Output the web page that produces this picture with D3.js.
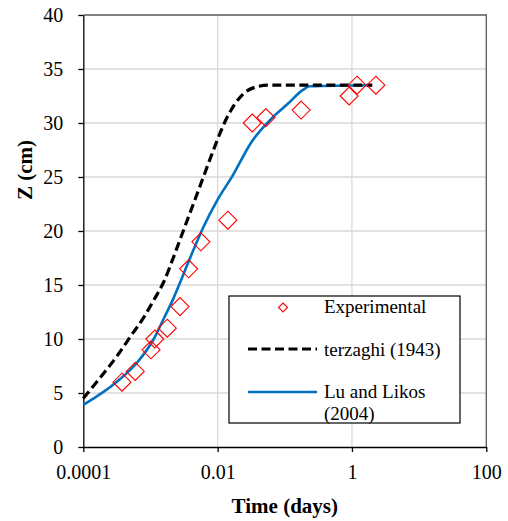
<!DOCTYPE html>
<html>
<head>
<meta charset="utf-8">
<script src="https://cdn.jsdelivr.net/npm/d3@7"></script>
<style>
  html, body { margin: 0; padding: 0; background: #fff; }
  svg { display: block; }
</style>
</head>
<body>
<svg id="chart" width="508" height="521"></svg>
<script>
// ---- Data ----
const xTicks = [0.0001, 0.01, 1, 100];
const xTickLabels = ["0.0001", "0.01", "1", "100"];
const yTicks = [0, 5, 10, 15, 20, 25, 30, 35, 40];

const expTime = [0.000377, 0.000594, 0.00102, 0.00116, 0.00178, 0.00275, 0.0037, 0.00563, 0.0142, 0.0327, 0.0524, 0.175, 0.908, 1.19, 2.27];
const expZ    = [6, 7, 9, 10, 11, 13, 16.5, 19, 21, 30, 30.5, 31.2, 32.5, 33.5, 33.5];

const terzTime = [0.0001, 0.0002, 0.000316, 0.0005, 0.000794, 0.00112, 0.00158, 0.00224, 0.00316, 0.00447, 0.00631, 0.00891, 0.0126, 0.0178, 0.0251, 0.0355, 0.0562, 2.0];
const terzZ    = [4.5, 6.8, 8.4, 10.2, 12.0, 13.6, 15.3, 17.7, 20.2, 22.7, 25.2, 27.7, 30.0, 31.7, 32.8, 33.3, 33.5, 33.5];

const luTime = [0.0001, 0.000316, 0.00063, 0.00112, 0.00158, 0.00214, 0.00389, 0.00617, 0.01, 0.017, 0.0316, 0.0631, 0.112, 0.186, 0.234, 2.0];
const luZ    = [3.9, 6.05, 7.8, 10.0, 11.9, 13.6, 17.5, 20.4, 22.9, 25.2, 28.2, 30.4, 31.8, 33.06, 33.4, 33.5];

const seriesNames = ["Experimental", "terzaghi (1943)", "Lu and Likos", "(2004)"];

// ---- Layout ----
const FONT = '"Liberation Serif", "Times New Roman", serif';
const L = 83.3, R = 486.3, T = 15, B = 447;
const svg = d3.select("#chart");

const x = d3.scaleLog().domain([0.0001, 100]).range([L, R]);
const y = d3.scaleLinear().domain([0, 40]).range([B, T]);

// gridlines
svg.append("g").selectAll("line").data(yTicks.filter(d => d > 0 && d < 40)).join("line")
  .attr("x1", L).attr("x2", R).attr("y1", d => y(d)).attr("y2", d => y(d))
  .attr("stroke", "#d9d9d9").attr("stroke-width", 1.3);
svg.append("g").selectAll("line").data(xTicks.filter(d => d > 0.0001 && d < 100)).join("line")
  .attr("x1", d => x(d)).attr("x2", d => x(d)).attr("y1", T).attr("y2", B)
  .attr("stroke", "#d9d9d9").attr("stroke-width", 1.3);

// frame top/right
svg.append("path")
  .attr("d", `M${L},${T}H${R}V${B}`)
  .attr("fill", "none").attr("stroke", "#595959").attr("stroke-width", 1.3);

// axes
const xAxis = d3.axisBottom(x).tickValues(xTicks).tickFormat((d, i) => xTickLabels[i]).tickSize(5).tickSizeOuter(0);
const gx = svg.append("g").attr("transform", `translate(0,${B})`).call(xAxis);
gx.attr("font-family", null).attr("font-size", null);
gx.select(".domain").attr("stroke", "#000").attr("stroke-width", 1.3);
gx.selectAll(".tick line").attr("stroke", "#000").attr("stroke-width", 1.3);
gx.selectAll(".tick text").style("font-family", FONT).style("font-size", "20px").attr("fill", "#000").attr("dy", null).attr("y", 32);

const yAxis = d3.axisLeft(y).tickValues(yTicks).tickSize(5).tickSizeOuter(0);
const gy = svg.append("g").attr("transform", `translate(${L},0)`).call(yAxis);
gy.attr("font-family", null).attr("font-size", null);
gy.select(".domain").attr("stroke", "#000").attr("stroke-width", 1.3);
gy.selectAll(".tick line").attr("stroke", "#000").attr("stroke-width", 1.3);
gy.selectAll(".tick text").style("font-family", FONT).style("font-size", "20px").attr("fill", "#000").attr("x", -20).attr("dy", "0.34em");

// axis titles
svg.append("text").attr("x", (L + R) / 2).attr("y", 513).attr("text-anchor", "middle")
  .style("font-family", FONT).style("font-size", "21px").style("font-weight", "bold").text("Time (days)");
svg.append("text").attr("transform", "translate(32,170) rotate(-90)").attr("text-anchor", "middle")
  .style("font-family", FONT).style("font-size", "21px").style("font-weight", "bold").text("Z (cm)");

// lines
const line = d3.line().x(d => x(d[0])).y(d => y(d[1])).curve(d3.curveMonotoneX);
const luData = luTime.map((t, i) => [t, luZ[i]]);
const terzData = terzTime.map((t, i) => [t, terzZ[i]]);

svg.append("path").datum(luData).attr("d", line)
  .attr("fill", "none").attr("stroke", "#0070C0").attr("stroke-width", 2.6);
svg.append("path").datum(terzData).attr("d", line)
  .attr("fill", "none").attr("stroke", "#000").attr("stroke-width", 3.2).attr("stroke-dasharray", "9,4.5");

// markers
const diamond = (s) => `M0,${-s}L${s},0L0,${s}L${-s},0Z`;
svg.append("g").selectAll("path").data(expTime.map((t, i) => [t, expZ[i]])).join("path")
  .attr("transform", d => `translate(${x(d[0])},${y(d[1])})`)
  .attr("d", diamond(9))
  .attr("fill", "none").attr("stroke", "#ff0000").attr("stroke-width", 1.1);

// legend
const lg = svg.append("g");
lg.append("rect").attr("x", 229).attr("y", 296).attr("width", 231).attr("height", 127)
  .attr("fill", "#fff").attr("stroke", "#000").attr("stroke-width", 1.2);
lg.append("path").attr("transform", "translate(283,307.5)").attr("d", diamond(4.5))
  .attr("fill", "none").attr("stroke", "#ff0000").attr("stroke-width", 1.1);
lg.append("line").attr("x1", 248).attr("x2", 317).attr("y1", 349).attr("y2", 349)
  .attr("stroke", "#000").attr("stroke-width", 3.2).attr("stroke-dasharray", "9,4.5");
lg.append("line").attr("x1", 248).attr("x2", 317).attr("y1", 392).attr("y2", 392)
  .attr("stroke", "#0070C0").attr("stroke-width", 2.6);
const ly = [313, 355.5, 397.5, 419.5];
lg.selectAll("text").data(seriesNames).join("text")
  .attr("x", 324).attr("y", (d, i) => ly[i])
  .style("font-family", FONT).style("font-size", "19px").attr("fill", "#000").text(d => d);
</script>
</body>
</html>
